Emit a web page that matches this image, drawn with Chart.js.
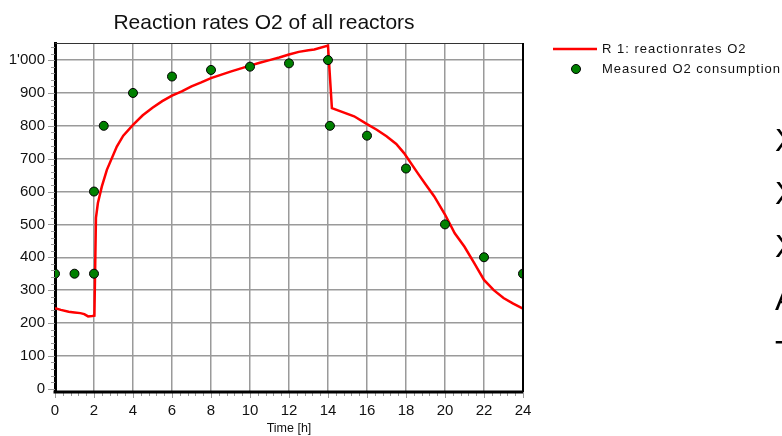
<!DOCTYPE html>
<html>
<head>
<meta charset="utf-8">
<script src="https://cdn.jsdelivr.net/npm/chart.js@4.4.1/dist/chart.umd.min.js"></script>
<style>
  html, body { margin: 0; padding: 0; background: #fff; overflow: hidden; }
  #caixa { width: 782px; height: 436px; position: relative; }
</style>
</head>
<body>
<div id="caixa"><canvas id="graficoReacao"></canvas></div>
<script>
// Dados
const tempoModelo = [0, 0.3, 0.7, 1.0, 1.3, 1.5, 1.7, 1.9, 2.02, 2.1, 2.2, 2.4, 2.66, 3.17, 3.5, 4.0, 4.5, 5.0, 5.5, 6.0,
  6.5, 7.0, 7.5, 8.0, 8.5, 9.0, 9.5, 10.0, 10.5, 11.0, 11.5, 12.0, 12.5, 13.0, 13.3, 14.0, 14.2, 14.65, 15.34, 16.0,
  16.5, 17.0, 17.5, 17.9, 18.6, 19.0, 19.45, 20.0, 20.5, 21.0, 21.5, 22.0, 22.5, 23.0, 23.5, 24.0];
const taxaModelo = [245, 240, 234, 232, 230, 227, 220, 221, 222, 520, 565, 615, 666, 737, 770, 803, 832, 855, 875, 892,
  905, 920, 932, 945, 955, 965, 974, 983, 992, 1000, 1008, 1017, 1025, 1030, 1032, 1044, 854, 844, 829, 805,
  788, 768, 745, 717, 656, 622, 585, 530, 473, 432, 382, 331, 300, 276, 259, 244];

const tempoMedido = [0, 1, 2, 2, 2.5, 4, 6, 8, 10, 12, 14, 14.1, 16, 18, 20, 22, 24];
const consumoMedido = [350, 350, 350, 600, 800, 900, 950, 970, 980, 990, 1000, 800, 770, 670, 500, 400, 350];

const ticksX = [0, 2, 4, 6, 8, 10, 12, 14, 16, 18, 20, 22, 24];
const ticksY = [0, 100, 200, 300, 400, 500, 600, 700, 800, 900, 1000];
const rotulosY = ['0', '100', '200', '300', '400', '500', '600', '700', '800', '900', "1'000"];
const letrasLado = ['X', 'X', 'X', 'A', 'T'];

const fonte = '"Liberation Sans", Arial, sans-serif';

const pontosModelo = tempoModelo.map((t, i) => ({ x: t, y: taxaModelo[i] }));
const pontosMedidos = tempoMedido.map((t, i) => ({ x: t, y: consumoMedido[i] }));

// moldura, tracinhos menores, título, legenda
const extras = {
  id: 'extras',
  beforeDatasetsDraw(chart) {
    const { ctx, chartArea: a, scales: { x, y } } = chart;
    ctx.save();
    ctx.strokeStyle = '#999';
    ctx.lineWidth = 1;
    for (let v = 0; v <= 1040; v += 20) {
      const py = Math.round(y.getPixelForValue(v)) + 0.5;
      ctx.beginPath();
      ctx.moveTo(a.left - (v % 100 === 0 ? 7 : 4), py);
      ctx.lineTo(a.left, py);
      ctx.stroke();
    }
    for (let i = 0; i <= 60; i++) {
      const px = Math.round(x.getPixelForValue(i * 0.4)) + 0.5;
      ctx.beginPath();
      ctx.moveTo(px, a.bottom);
      ctx.lineTo(px, a.bottom + (i % 5 === 0 ? 6 : 4));
      ctx.stroke();
    }
    ctx.restore();
  },
  afterDraw(chart) {
    const { ctx, chartArea: a } = chart;
    ctx.save();
    ctx.strokeStyle = '#333';
    ctx.lineWidth = 1;
    ctx.beginPath();
    ctx.moveTo(a.left, a.top + 0.5);
    ctx.lineTo(a.right, a.top + 0.5);
    ctx.stroke();
    ctx.strokeStyle = '#000';
    ctx.lineWidth = 2;
    ctx.beginPath();
    ctx.moveTo(a.right, a.top);
    ctx.lineTo(a.right, a.bottom);
    ctx.stroke();
    ctx.lineWidth = 3;
    ctx.beginPath();
    ctx.moveTo(a.left - 1.5, a.bottom);
    ctx.lineTo(a.right, a.bottom);
    ctx.stroke();

    ctx.fillStyle = '#111';
    ctx.font = '21px ' + fonte;
    ctx.textAlign = 'center';
    ctx.textBaseline = 'alphabetic';
    ctx.fillText('Reaction rates O2 of all reactors', 264, 29);

    // legenda
    ctx.strokeStyle = '#ff0000';
    ctx.lineWidth = 2.5;
    ctx.beginPath();
    ctx.moveTo(553, 49);
    ctx.lineTo(597, 49);
    ctx.stroke();
    ctx.beginPath();
    ctx.arc(576, 69, 4.5, 0, Math.PI * 2);
    ctx.fillStyle = '#008000';
    ctx.fill();
    ctx.strokeStyle = '#000';
    ctx.lineWidth = 1;
    ctx.stroke();
    ctx.fillStyle = '#111';
    ctx.font = '13px ' + fonte;
    ctx.letterSpacing = '1px';
    ctx.textAlign = 'left';
    ctx.textBaseline = 'middle';
    ctx.fillText('R 1: reactionrates O2', 602, 49);
    ctx.fillText('Measured O2 consumption', 602, 69);
    ctx.letterSpacing = '0px';

    // letras cortadas na borda direita
    ctx.fillStyle = '#000';
    ctx.font = '32px ' + fonte;
    ctx.textBaseline = 'alphabetic';
    letrasLado.forEach((l, i) => ctx.fillText(l, 775, 151 + i * 53));
    ctx.restore();
  }
};

const corGrade = c => (c.tick && c.tick.value === 0 ? 'rgba(0,0,0,0)' : '#9a9a9a');

const ctx = document.getElementById('graficoReacao').getContext('2d');
const graficoReacao = new Chart(ctx, {
  type: 'scatter',
  data: {
    datasets: [{
      label: 'Measured O2 consumption',
      data: pontosMedidos,
      backgroundColor: '#008000',
      borderColor: '#000',
      borderWidth: 1,
      pointRadius: 4.5,
      showLine: false,
      clip: 0,
      order: 1
    }, {
      label: 'R 1: reactionrates O2',
      type: 'line',
      data: pontosModelo,
      borderColor: '#ff0000',
      borderWidth: 2.5,
      pointRadius: 0,
      tension: 0,
      fill: false,
      clip: 0,
      order: 2
    }]
  },
  options: {
    responsive: true,
    maintainAspectRatio: false,
    animation: false,
    devicePixelRatio: 1,
    layout: { padding: { top: 43, right: 259, left: 0, bottom: 0 } },
    plugins: { legend: { display: false }, title: { display: false }, tooltip: { enabled: false } },
    scales: {
      x: {
        type: 'linear',
        min: 0,
        max: 24,
        afterBuildTicks: s => { s.ticks = ticksX.map(v => ({ value: v })); },
        afterFit: s => { s.height = 44; },
        grid: { color: '#9a9a9a', lineWidth: 1.5, drawTicks: false },
        border: { display: false },
        ticks: { color: '#111', font: { family: fonte, size: 15 }, padding: 10, maxRotation: 0, autoSkip: false },
        title: { display: true, text: 'Time [h]', color: '#111', font: { family: fonte, size: 12.5 }, padding: 0 }
      },
      y: {
        min: -10,
        max: 1052,
        afterBuildTicks: s => { s.ticks = ticksY.map(v => ({ value: v })); },
        afterFit: s => { s.width = 55; },
        grid: { color: corGrade, lineWidth: 1.5, drawTicks: false },
        border: { color: '#000', width: 3 },
        ticks: {
          color: '#111',
          font: { family: fonte, size: 15 },
          padding: 10,
          autoSkip: false,
          callback: (v, i) => rotulosY[i]
        }
      }
    }
  },
  plugins: [extras]
});
</script>
</body>
</html>
